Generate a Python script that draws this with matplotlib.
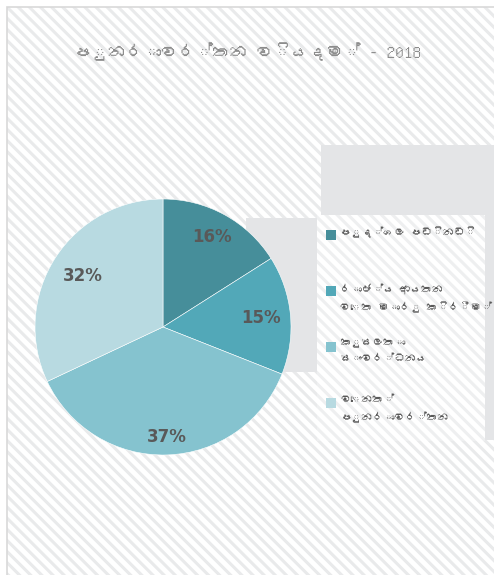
import numpy as np
import matplotlib
matplotlib.use("Agg")
import matplotlib.pyplot as plt
from matplotlib import font_manager
from matplotlib.ft2font import FT2Font
from matplotlib.patches import Rectangle

TITLE = "පුනරාවර්තන වියදම් - 2018"
CATEGORIES = [
    "පුද්ගල පඩිනඩි",
    "රාජ්ය ආයතන\nවෙත මාරු කිරීම්",
    "කුසලතා\nසංවර්ධනය",
    "වෙනත්\nපුනරාවර්තන",
]
VALUES = [16, 15, 37, 32]
COLORS = ["#468e9a", "#52a8b8", "#85c3cf", "#b8dae1"]
# how far out each percentage sits (fraction of radius), Excel "best fit"
LABEL_DIST = [0.8, 0.77, 0.86, 0.74]

W, H = 494, 575


def find_sinhala_family():
    # look for any installed font that actually has Sinhala glyphs
    for path in font_manager.findSystemFonts():
        try:
            cmap = FT2Font(path).get_charmap()
        except Exception:
            continue
        if 0x0DB4 in cmap and 0x0DBB in cmap:
            return font_manager.FontProperties(fname=path).get_name()
    return None


sinhala = find_sinhala_family()
families = ([sinhala] if sinhala else []) + ["DejaVu Sans"]
plt.rcParams["font.family"] = families
plt.rcParams["hatch.linewidth"] = 2.2


def px(x, y):
    # pixel coords (top-left origin) -> figure fraction
    return x / W, 1 - y / H


fig = plt.figure(figsize=(W / 100, H / 100), dpi=100)
fig.patch.set_facecolor("white")


def box(x0, y0, x1, y1, fc, hatch=None, ec="none", lw=0, z=-1):
    (fx0, fy1), (fx1, fy0) = px(x0, y0), px(x1, y1)
    r = Rectangle((fx0, fy0), fx1 - fx0, fy1 - fy0, transform=fig.transFigure,
                  facecolor=fc, edgecolor=ec, linewidth=lw, hatch=hatch, zorder=z)
    fig.patches.append(r)
    return r


# striped background
box(7, 7, W + 5, H + 5, "white", hatch="\\\\\\", ec="#e9eaeb", z=-3)
box(7, 7, W + 5, H + 5, "none", ec="#d9d9d9", lw=1.2, z=-3)

# grey blocks behind the legend
box(321, 145, W, 440, "#e4e5e7", z=-2)
box(246, 218, 321, 372, "#e4e5e7", z=-2)

# legend panel
box(317, 215, 485, 441, "white", hatch="\\\\\\", ec="#eeeff0", z=-2)

fig.text(*px(W / 2, 52), TITLE, ha="center", va="center",
         fontsize=12.5, color="#8c8c8c")

# pie
cx, cy, r = 163, 327, 128
ax = fig.add_axes([(cx - r) / W, 1 - (cy + r) / H, 2 * r / W, 2 * r / H])
ax.patch.set_visible(False)
wedges, texts, autotexts = ax.pie(
    VALUES, colors=COLORS, startangle=90, counterclock=False,
    autopct="%d%%", pctdistance=0.8,
    wedgeprops=dict(edgecolor="white", linewidth=0.4),
    textprops=dict(fontsize=12, fontweight="bold", color="#595959",
                   family=["DejaVu Sans"]),
)
for w, t, d in zip(wedges, autotexts, LABEL_DIST):
    mid = np.deg2rad((w.theta1 + w.theta2) / 2)
    t.set_position((d * np.cos(mid), d * np.sin(mid)))
ax.set_aspect("equal")
ax.set_xlim(-1, 1)
ax.set_ylim(-1, 1)

# legend drawn by hand so the entry spacing matches
for i, (lab, col) in enumerate(zip(CATEGORIES, COLORS)):
    y = 235 + i * 56
    x0, y0 = px(326, y + 5)
    fig.patches.append(Rectangle((x0, y0), 10 / W, 10 / H,
                                 transform=fig.transFigure, facecolor=col,
                                 edgecolor="none", zorder=1))
    fig.text(*px(340, y - 8), lab, ha="left", va="top", fontsize=7.8,
             color="#595959", linespacing=1.8)

fig.savefig("out.png", dpi=100)
